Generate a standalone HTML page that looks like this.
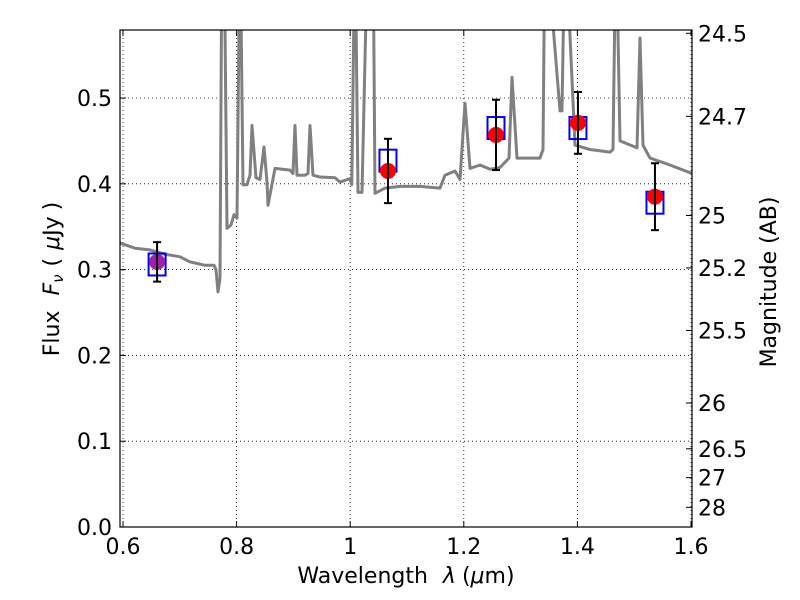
<!DOCTYPE html>
<html><head><meta charset="utf-8"><style>
body{margin:0;background:#fff}
svg{display:block;font-family:"DejaVu Sans","Liberation Sans",sans-serif}
</style></head><body>
<svg id="chart" width="800" height="600"></svg>
<script>
const specLam=[.5947,.6211,.6475,.6739,.7004,.7180,.7444,.7602,.7637,.7673,.7708,.7743,.7778,.7831,.7901,.7954,.8007,.8060,.8113,.8183,.8236,.8271,.8342,.8412,.8482,.8535,.8553,.8676,.8940,.8993,.9028,.9063,.9204,.9257,.9292,.9345,.9468,.9732,.9820,.9993,1.0029,1.0085,1.0137,1.0208,1.0313,1.0401,1.0437,1.0613,1.0877,1.1229,1.1581,1.1669,1.1845,1.1933,1.2021,1.2109,1.2285,1.2461,1.2637,1.2796,1.2849,1.2937,1.3342,1.3394,1.3430,1.3694,1.3729,1.3782,1.3958,1.4222,1.4574,1.4627,1.4680,1.4750,1.5049,1.5102,1.5155,1.5278,1.5630,1.6018];
const specFlux=[.331,.325,.323,.318,.315,.309,.305,.305,.300,.274,.290,.7,.7,.348,.352,.364,.36,.7,.399,.399,.41,.468,.407,.405,.443,.402,.375,.418,.416,.412,.468,.41,.41,.412,.468,.41,.408,.407,.402,.406,.399,.7,.39,.39,.7,.7,.389,.395,.397,.397,.395,.41,.415,.405,.494,.418,.422,.417,.419,.43,.524,.43,.43,.44,.7,.485,.485,.7,.445,.44,.437,.44,.7,.45,.442,.57,.445,.43,.422,.412];
const obsLam=[0.66,1.0665,1.2567,1.401,1.5366];
const obsFlux=[0.309,0.415,0.457,0.471,0.385];
const obsErr=[0.023,0.0375,0.041,0.036,0.039];
const modelFlux=[0.306,0.427,0.465,0.465,0.378];
const xTicks=[0.6,0.8,1.0,1.2,1.4,1.6];
const xTickLabels=["0.6","0.8","1","1.2","1.4","1.6"];
const yTicks=[0,0.1,0.2,0.3,0.4,0.5];
const yTickLabels=["0.0","0.1","0.2","0.3","0.4","0.5"];
const magTicks=[24.5,24.7,25,25.2,25.5,26,26.5,27,28];
const magTickLabels=["24.5","24.7","25","25.2","25.5","26","26.5","27","28"];

const L=120,R=692,T=30,B=527,X0=0.5947,X1=1.6018,Y0=0,Y1=0.5793;
const sx=v=>L+(v-X0)/(X1-X0)*(R-L);
const sy=v=>B-(v-Y0)/(Y1-Y0)*(B-T);
const svg=document.getElementById('chart');
const NS='http://www.w3.org/2000/svg';
function mk(tag,attrs,parent){const e=document.createElementNS(NS,tag);for(const k in attrs)e.setAttribute(k,attrs[k]);(parent||svg).appendChild(e);return e;}

const defs=mk('defs',{});
const cp=mk('clipPath',{id:'clip'},defs);mk('rect',{x:L,y:T,width:R-L,height:B-T},cp);

xTicks.forEach(v=>{const g=mk('line',{x1:sx(v),x2:sx(v),y1:T,y2:B,stroke:'#000','stroke-width':0.8,'stroke-dasharray':'1,3'});

});
yTicks.forEach(v=>{const g=mk('line',{x1:L,x2:R,y1:sy(v),y2:sy(v),stroke:'#000','stroke-width':0.8,'stroke-dasharray':'1,3'});

});

const pts=specLam.map((l,i)=>sx(l).toFixed(1)+','+sy(specFlux[i]).toFixed(1)).join(' ');
const sp=mk('polyline',{points:pts,fill:'none',stroke:'#808080','stroke-width':3,'clip-path':'url(#clip)','stroke-linejoin':'round'});



modelFlux.forEach((f,i)=>{const s=mk('rect',{x:sx(obsLam[i])-8.5,y:sy(f)-11,width:17,height:22,fill:'none',stroke:'#0000ff','stroke-width':2});

});
obsFlux.forEach((f,i)=>{const c=mk('circle',{cx:sx(obsLam[i]),cy:sy(f),r:8,fill:i===0?'#a020a8':'#ff0000'});

});
obsFlux.forEach((f,i)=>{const x=sx(obsLam[i]),y1=sy(f+obsErr[i]),y2=sy(f-obsErr[i]);
const g=mk('g',{stroke:'#000','stroke-width':2});


mk('line',{x1:x,x2:x,y1:y1,y2:y2},g);mk('line',{x1:x-4,x2:x+4,y1:y1,y2:y1},g);mk('line',{x1:x-4,x2:x+4,y1:y2,y2:y2},g);});

const fr=mk('rect',{x:L,y:T,width:R-L,height:B-T,fill:'none',stroke:'#000','stroke-width':1.2});



xTicks.forEach((v,i)=>{const x=sx(v);mk('line',{x1:x,x2:x,y1:B,y2:B-6,stroke:'#000'});mk('line',{x1:x,x2:x,y1:T,y2:T+6,stroke:'#000'});
const t=mk('text',{x:x,y:B+27,'font-size':22,'text-anchor':'middle'});t.textContent=xTickLabels[i];

});
yTicks.forEach((v,i)=>{const y=sy(v);mk('line',{x1:L,x2:L+6,y1:y,y2:y,stroke:'#000'});
const t=mk('text',{x:L-8,y:y+8,'font-size':22,'text-anchor':'end'});t.textContent=yTickLabels[i];

});
magTicks.forEach((m,i)=>{const y=sy(Math.pow(10,(23.9-m)/2.5));mk('line',{x1:R,x2:R-6,y1:y,y2:y,stroke:'#000'});
const t=mk('text',{x:R+6,y:y+8,'font-size':22});t.textContent=magTickLabels[i];

});

const xl=mk('text',{x:406,y:583,'font-size':22,'text-anchor':'middle','xml:space':'preserve'});xl.innerHTML='Wavelength <tspan dx="8" font-style="italic">λ</tspan><tspan dx="6">(</tspan><tspan font-style="italic">μ</tspan>m)';


const yl=mk('text',{x:0,y:0,'font-size':22,'text-anchor':'middle',transform:'translate(59,279) rotate(-90)'});yl.innerHTML='Flux <tspan dx="8" font-style="italic">F</tspan><tspan font-style="italic" font-size="15" dy="4">ν</tspan><tspan dy="-4" dx="8">(</tspan><tspan dx="8" font-style="italic">μ</tspan>Jy<tspan dx="6">)</tspan>';


const rl=mk('text',{x:0,y:0,'font-size':22,'text-anchor':'middle',transform:'translate(776,282) rotate(-90)'});rl.textContent='Magnitude (AB)';


</script>
</body></html>
